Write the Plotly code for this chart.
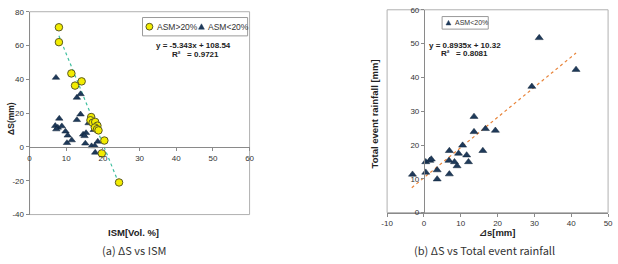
import plotly.graph_objects as go

W, H = 618, 264

# ---------------- Data: (a) ΔS vs ISM ----------------
ism_high = [8.0, 8.0, 11.4, 12.4, 14.2, 16.8, 16.6, 17.2, 17.9, 18.5, 17.8, 18.4, 18.8, 20.4, 19.7, 24.4]
ds_high = [70.8, 62.0, 43.5, 36.3, 38.8, 17.7, 15.8, 14.3, 14.8, 12.6, 11.5, 10.5, 9.8, 3.8, -3.8, -21.0]

ism_low = [7.2, 12.9, 13.9, 8.1, 12.9, 13.9, 16.1, 7.0, 7.7, 8.8, 7.3, 9.8, 10.4, 10.2, 11.5,
           14.6, 15.4, 15.0, 15.2, 17.5, 18.6, 16.9, 17.8, 17.9]
ds_low = [41.0, 29.2, 31.3, 16.8, 16.0, 19.3, 14.1, 12.5, 11.5, 12.3, 10.5, 9.2, 6.8, 2.4, 4.0,
          7.4, 8.3, 6.5, 2.1, 10.1, 3.2, 0.5, 0.6, -3.3]

fit_a_slope, fit_a_icpt = -5.343, 108.54
fit_a_x = [8.0, 24.4]

# ---------------- Data: (b) ΔS vs Total event rainfall ----------------
ds_b = [31.3, 41.3, 29.3, -3.1, 0.5, 0.5, 1.6, 2.0, 3.6, 3.6, 6.8, 6.9, 6.9, 8.3, 9.0, 9.4,
        10.5, 11.6, 12.1, 13.6, 13.6, 16.0, 16.7, 19.4]
rain_b = [51.7, 42.3, 37.3, 11.3, 15.0, 11.9, 15.4, 15.8, 12.6, 9.9, 15.4, 18.3, 11.4, 15.0, 13.8, 17.5,
          19.9, 17.0, 15.0, 28.4, 23.9, 18.3, 24.8, 24.3]

fit_b_slope, fit_b_icpt = 0.8935, 10.32
fit_b_x = [-3.3, 41.3]

# tick labels
a_xticks = [0, 10, 20, 30, 40, 50, 60]
a_yticks = [-40, -20, 0, 20, 40, 60, 80]
b_xticks = [-10, 0, 10, 20, 30, 40, 50]
b_yticks = [0, 10, 20, 30, 40, 50, 60]

# ---------------- Styling ----------------
YEL = "#f2ec00"
YEL_LINE = "#5c5a22"
NAVY = "#1f3a5a"
TICKFONT = dict(family="Liberation Sans, Arial, sans-serif", size=8, color="#333333")
NARROW = "Liberation Sans Narrow, Liberation Sans, DejaVu Sans, Noto Sans CJK KR"
AX = "#8a8a8a"
FRAME = "#b0b0b0"


def px(x):
    return x / W


def py(y):
    return 1 - y / H


a_dom_x = [px(24), px(248)]
a_dom_y = [py(218), py(8)]
b_dom_x = [px(388), px(613)]
b_dom_y = [py(216), py(6)]
a_yrange = [-40, 80]
b_xrange = [-10, 50]

# position of y=0 line (left panel) and x=0 line (right panel)
a_zero_pos = a_dom_y[0] + (0 - a_yrange[0]) / (a_yrange[1] - a_yrange[0]) * (a_dom_y[1] - a_dom_y[0])
b_zero_pos = b_dom_x[0] + (0 - b_xrange[0]) / (b_xrange[1] - b_xrange[0]) * (b_dom_x[1] - b_dom_x[0])

fig = go.Figure()

# (a) traces
fig.add_trace(go.Scatter(
    x=fit_a_x, y=[fit_a_slope * v + fit_a_icpt for v in fit_a_x], mode="lines",
    line=dict(color="#3fbf9f", width=1.2, dash="dot"), xaxis="x", yaxis="y",
    showlegend=False, hoverinfo="skip"))
fig.add_trace(go.Scatter(
    x=ism_low, y=ds_low, mode="markers", name="ASM<20%",
    marker=dict(symbol="triangle-up", size=6.5, color=NAVY, line=dict(width=0.5, color="#0f2238")),
    xaxis="x", yaxis="y", showlegend=False))
fig.add_trace(go.Scatter(
    x=ism_high, y=ds_high, mode="markers", name="ASM>20%",
    marker=dict(symbol="circle", size=7.5, color=YEL, line=dict(width=1, color=YEL_LINE)),
    xaxis="x", yaxis="y", showlegend=False))

# (b) traces
fig.add_trace(go.Scatter(
    x=fit_b_x, y=[fit_b_slope * v + fit_b_icpt for v in fit_b_x], mode="lines",
    line=dict(color="#e8843a", width=1.2, dash="dot"), xaxis="x2", yaxis="y2",
    showlegend=False, hoverinfo="skip"))
fig.add_trace(go.Scatter(
    x=ds_b, y=rain_b, mode="markers", name="ASM<20%",
    marker=dict(symbol="triangle-up", size=7, color=NAVY, line=dict(width=0.5, color="#0f2238")),
    xaxis="x2", yaxis="y2", showlegend=False))

common = dict(showgrid=False, zeroline=False, showline=True, linecolor=AX, linewidth=1,
              ticks="outside", ticklen=3, tickcolor=AX, tickfont=TICKFONT)

fig.update_layout(
    width=W, height=H, autosize=False,
    margin=dict(l=0, r=0, t=0, b=0),
    paper_bgcolor="white", plot_bgcolor="white",
    showlegend=False,
    xaxis=dict(domain=a_dom_x, range=[0, 60], anchor="free", position=a_zero_pos,
               tickvals=a_xticks, ticktext=[str(v) for v in a_xticks], **common),
    yaxis=dict(domain=a_dom_y, range=a_yrange, anchor="x",
               tickvals=a_yticks, ticktext=[str(v) for v in a_yticks], **common),
    xaxis2=dict(domain=b_dom_x, range=b_xrange, anchor="y2",
                tickvals=b_xticks, ticktext=[str(v) for v in b_xticks], **common),
    yaxis2=dict(domain=b_dom_y, range=[0, 60], anchor="free", position=b_zero_pos,
                tickvals=b_yticks, ticktext=[str(v) for v in b_yticks], **common),
)

shapes = []
# frames
shapes.append(dict(type="rect", xref="paper", yref="paper", x0=a_dom_x[0], x1=a_dom_x[1],
                   y0=a_dom_y[0], y1=a_dom_y[1], line=dict(color=FRAME, width=1), layer="below"))
shapes.append(dict(type="rect", xref="paper", yref="paper", x0=b_dom_x[0], x1=b_dom_x[1],
                   y0=b_dom_y[0], y1=b_dom_y[1], line=dict(color=FRAME, width=1), layer="below"))

# legend boxes
shapes.append(dict(type="rect", xref="paper", yref="paper", x0=px(139), x1=px(246),
                   y0=py(33), y1=py(14), line=dict(color="#9a9a9a", width=1), fillcolor="white"))
shapes.append(dict(type="rect", xref="paper", yref="paper", x0=px(444), x1=px(491),
                   y0=py(26), y1=py(13), line=dict(color="#9a9a9a", width=1), fillcolor="white"))


def circle_sym(cx, cy, r):
    return dict(type="circle", xref="paper", yref="paper", x0=px(cx - r), x1=px(cx + r),
                y0=py(cy + r), y1=py(cy - r), fillcolor=YEL, line=dict(color=YEL_LINE, width=1))


def tri_sym(cx, cy, s):
    path = "M {} {} L {} {} L {} {} Z".format(px(cx - s / 2), py(cy + s * 0.43),
                                             px(cx + s / 2), py(cy + s * 0.43),
                                             px(cx), py(cy - s * 0.5))
    return dict(type="path", xref="paper", yref="paper", path=path, fillcolor=NAVY,
                line=dict(color=NAVY, width=0.5))


shapes.append(circle_sym(146, 23.5, 3.5))
shapes.append(tri_sym(199, 23.5, 6))
shapes.append(tri_sym(450.5, 19.5, 5))

fig.update_layout(shapes=shapes)


def ann(text, x, y, size, family=NARROW, color="#222222", angle=0, xanchor="center"):
    return dict(text=text, x=px(x), y=py(y), xref="paper", yref="paper", showarrow=False,
                xanchor=xanchor, yanchor="middle", textangle=angle,
                font=dict(family=family, size=size, color=color))


SANS = "Liberation Sans, Arial, sans-serif"
CAP = "Noto Sans CJK KR, Noto Sans, sans-serif"

annotations = [
    # legend texts
    ann("ASM>20%", 152, 23.5, 8.5, family=SANS, color="#333333", xanchor="left"),
    ann("ASM<20%", 204, 23.5, 8.5, family=SANS, color="#333333", xanchor="left"),
    ann("ASM<20%", 455, 19.5, 7, family=SANS, color="#333333", xanchor="left"),
    # equations
    ann("<b>y = -5.343x + 108.54</b>", 190.5, 43, 8),
    ann("<b>R²\u00a0\u00a0 = 0.9721</b>", 193, 52, 8),
    ann("<b>y = 0.8935x + 10.32</b>", 467.5, 42.5, 8),
    ann("<b>R²\u00a0\u00a0 = 0.8081</b>", 467, 51.5, 8),
    # axis titles
    ann("<b>ΔS(mm)</b>", 5, 118, 8.5, angle=-90),
    ann("<b>ISM[Vol. %]</b>", 130, 237, 9.5),
    ann("<b>⊿s[mm]</b>", 500, 237, 9.5),
    ann("<b>Total event rainfall [mm]</b>", 375, 114, 9.5, angle=-90),
    # captions
    ann("(a) ΔS vs ISM", 130, 255, 11, family=CAP, color="#333333"),
    ann("(b) ΔS vs Total event rainfall", 487, 255, 11, family=CAP, color="#333333"),
]
fig.update_layout(annotations=annotations)

fig.write_html("out.html")
